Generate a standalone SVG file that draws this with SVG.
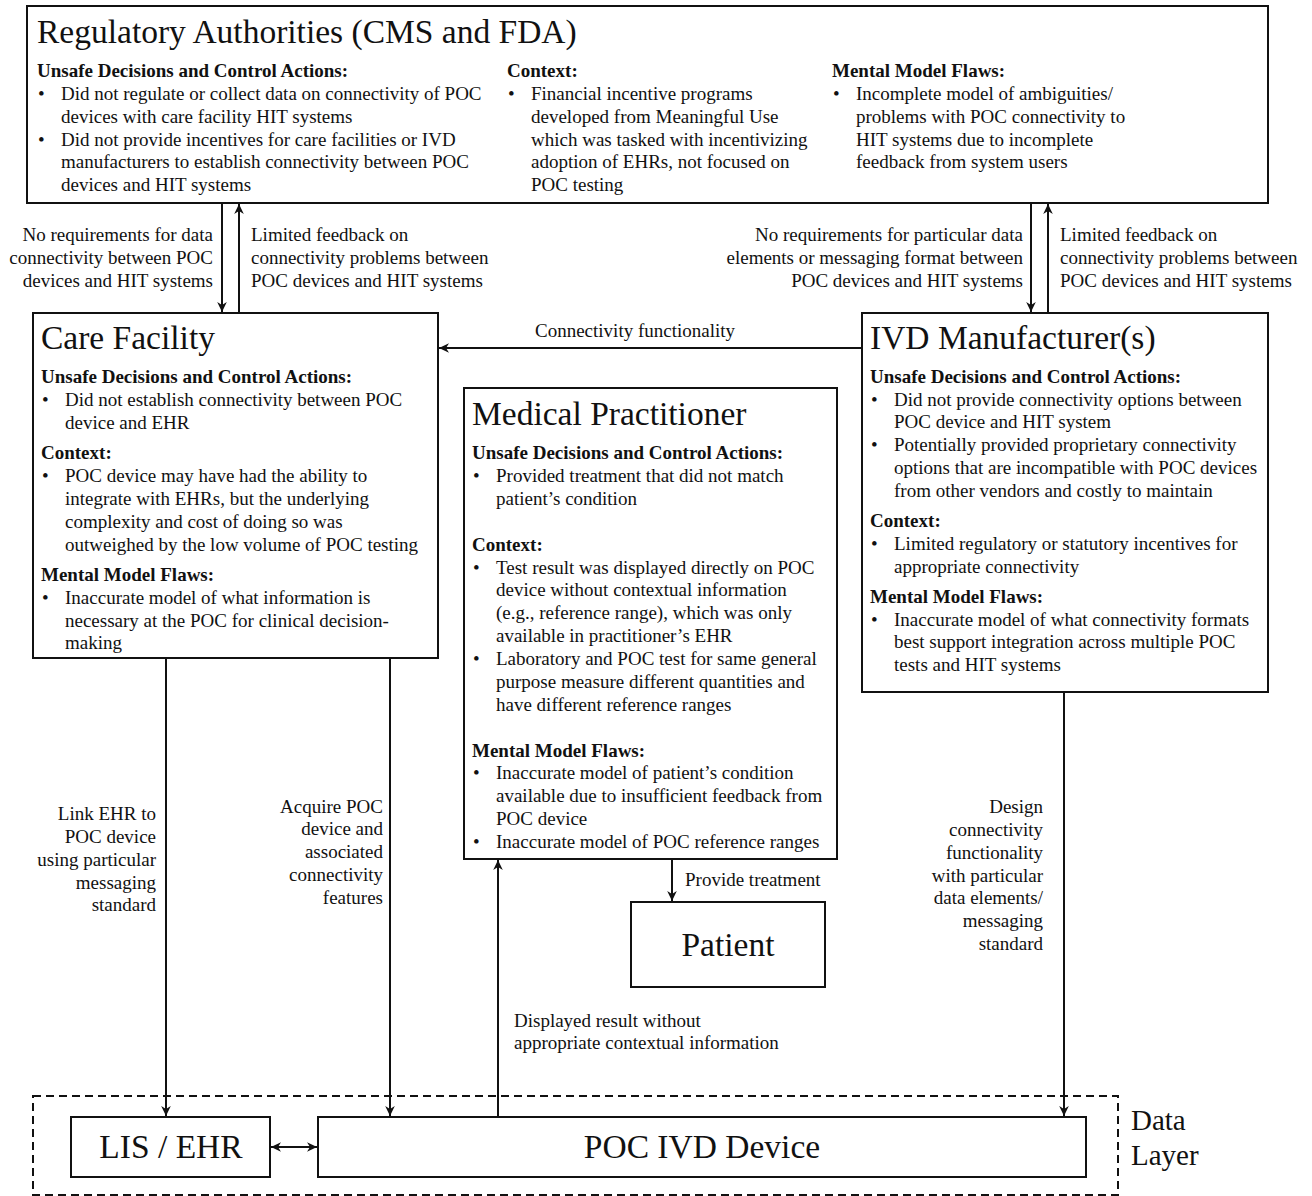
<svg xmlns="http://www.w3.org/2000/svg" width="1312" height="1196" viewBox="0 0 1312 1196">
  <style>
    text { font-family: "Liberation Serif", "Times New Roman", serif; font-size: 19px; fill: #111; }
    .hd { font-weight: bold; }
    .ttl { font-size: 33.5px; }
    .dl { font-size: 29px; }
    .end { text-anchor: end; }
    .mid { text-anchor: middle; }
    .box { fill: #fff; stroke: #111; stroke-width: 2; }
    .edge { fill: none; stroke: #111; stroke-width: 2; marker-end: url(#head); }
    .both { marker-start: url(#tail); }
    .layer { fill: none; stroke: #111; stroke-width: 2; stroke-dasharray: 8 5; }
  </style>
  <defs>
    <marker id="head" viewBox="-11 -6 12 12" refX="0" refY="0" markerWidth="12" markerHeight="12" markerUnits="userSpaceOnUse" orient="auto">
      <path d="M0,0 L-10,-4.8 L-7,0 L-10,4.8 Z" fill="#111"/>
    </marker>
    <marker id="tail" viewBox="-1 -6 12 12" refX="0" refY="0" markerWidth="12" markerHeight="12" markerUnits="userSpaceOnUse" orient="auto">
      <path d="M0,0 L10,-4.8 L7,0 L10,4.8 Z" fill="#111"/>
    </marker>
  </defs>

  <rect width="1312" height="1196" fill="#fff"/>

  <!-- data layer boundary -->
  <rect class="layer" x="33" y="1096" width="1085" height="99"/>
  <text class="dl" x="1131" y="1130">Data</text>
  <text class="dl" x="1131" y="1165">Layer</text>

  <!-- Regulatory authorities -->
  <g id="regulatory-authorities">
    <rect class="box" x="27" y="6" width="1241" height="197"/>
    <text class="ttl" x="37" y="43">Regulatory Authorities (CMS and FDA)</text>
    <text class="hd" x="37" y="77">Unsafe Decisions and Control Actions:</text>
    <text x="38" y="100">•</text>
    <text x="61" y="100">Did not regulate or collect data on connectivity of POC</text>
    <text x="61" y="123">devices with care facility HIT systems</text>
    <text x="38" y="146">•</text>
    <text x="61" y="146">Did not provide incentives for care facilities or IVD</text>
    <text x="61" y="168">manufacturers to establish connectivity between POC</text>
    <text x="61" y="191">devices and HIT systems</text>

    <text class="hd" x="507" y="77">Context:</text>
    <text x="508" y="100">•</text>
    <text x="531" y="100">Financial incentive programs</text>
    <text x="531" y="123">developed from Meaningful Use</text>
    <text x="531" y="146">which was tasked with incentivizing</text>
    <text x="531" y="168">adoption of EHRs, not focused on</text>
    <text x="531" y="191">POC testing</text>

    <text class="hd" x="832" y="77">Mental Model Flaws:</text>
    <text x="833" y="100">•</text>
    <text x="856" y="100">Incomplete model of ambiguities/</text>
    <text x="856" y="123">problems with POC connectivity to</text>
    <text x="856" y="146">HIT systems due to incomplete</text>
    <text x="856" y="168">feedback from system users</text>
  </g>

  <!-- Care facility -->
  <g id="care-facility">
    <rect class="box" x="33" y="313" width="405" height="345"/>
    <text class="ttl" x="41" y="349">Care Facility</text>
    <text class="hd" x="41" y="383">Unsafe Decisions and Control Actions:</text>
    <text x="42" y="406">•</text>
    <text x="65" y="406">Did not establish connectivity between POC</text>
    <text x="65" y="429">device and EHR</text>
    <text class="hd" x="41" y="459">Context:</text>
    <text x="42" y="482">•</text>
    <text x="65" y="482">POC device may have had the ability to</text>
    <text x="65" y="505">integrate with EHRs, but the underlying</text>
    <text x="65" y="528">complexity and cost of doing so was</text>
    <text x="65" y="551">outweighed by the low volume of POC testing</text>
    <text class="hd" x="41" y="581">Mental Model Flaws:</text>
    <text x="42" y="604">•</text>
    <text x="65" y="604">Inaccurate model of what information is</text>
    <text x="65" y="627">necessary at the POC for clinical decision-</text>
    <text x="65" y="649">making</text>
  </g>

  <!-- IVD manufacturers -->
  <g id="ivd-manufacturers">
    <rect class="box" x="862" y="313" width="406" height="379"/>
    <text class="ttl" x="870" y="349">IVD Manufacturer(s)</text>
    <text class="hd" x="870" y="383">Unsafe Decisions and Control Actions:</text>
    <text x="871" y="406">•</text>
    <text x="894" y="406">Did not provide connectivity options between</text>
    <text x="894" y="428">POC device and HIT system</text>
    <text x="871" y="451">•</text>
    <text x="894" y="451">Potentially provided proprietary connectivity</text>
    <text x="894" y="474">options that are incompatible with POC devices</text>
    <text x="894" y="497">from other vendors and costly to maintain</text>
    <text class="hd" x="870" y="527">Context:</text>
    <text x="871" y="550">•</text>
    <text x="894" y="550">Limited regulatory or statutory incentives for</text>
    <text x="894" y="573">appropriate connectivity</text>
    <text class="hd" x="870" y="603">Mental Model Flaws:</text>
    <text x="871" y="626">•</text>
    <text x="894" y="626">Inaccurate model of what connectivity formats</text>
    <text x="894" y="648">best support integration across multiple POC</text>
    <text x="894" y="671">tests and HIT systems</text>
  </g>

  <!-- Medical practitioner -->
  <g id="medical-practitioner">
    <rect class="box" x="464" y="388" width="373" height="471"/>
    <text class="ttl" x="472" y="425">Medical Practitioner</text>
    <text class="hd" x="472" y="459">Unsafe Decisions and Control Actions:</text>
    <text x="473" y="482">•</text>
    <text x="496" y="482">Provided treatment that did not match</text>
    <text x="496" y="505">patient’s condition</text>
    <text class="hd" x="472" y="551">Context:</text>
    <text x="473" y="574">•</text>
    <text x="496" y="574">Test result was displayed directly on POC</text>
    <text x="496" y="596">device without contextual information</text>
    <text x="496" y="619">(e.g., reference range), which was only</text>
    <text x="496" y="642">available in practitioner’s EHR</text>
    <text x="473" y="665">•</text>
    <text x="496" y="665">Laboratory and POC test for same general</text>
    <text x="496" y="688">purpose measure different quantities and</text>
    <text x="496" y="711">have different reference ranges</text>
    <text class="hd" x="472" y="757">Mental Model Flaws:</text>
    <text x="473" y="779">•</text>
    <text x="496" y="779">Inaccurate model of patient’s condition</text>
    <text x="496" y="802">available due to insufficient feedback from</text>
    <text x="496" y="825">POC device</text>
    <text x="473" y="848">•</text>
    <text x="496" y="848">Inaccurate model of POC reference ranges</text>
  </g>

  <!-- Patient -->
  <g id="patient">
    <rect class="box" x="631" y="902" width="194" height="85"/>
    <text class="ttl mid" x="728" y="956">Patient</text>
  </g>

  <!-- LIS / EHR -->
  <g id="lis-ehr">
    <rect class="box" x="71" y="1117" width="199" height="60"/>
    <text class="ttl mid" x="171" y="1158">LIS / EHR</text>
  </g>

  <!-- POC IVD device -->
  <g id="poc-ivd-device">
    <rect class="box" x="318" y="1117" width="768" height="60"/>
    <text class="ttl mid" x="702" y="1158">POC IVD Device</text>
  </g>

  <!-- connectors and their labels -->
  <g id="connectors">
    <line class="edge" x1="222" y1="204" x2="222" y2="312"/>
    <line class="edge" x1="239" y1="312" x2="239" y2="204"/>
    <line class="edge" x1="1031" y1="204" x2="1031" y2="312"/>
    <line class="edge" x1="1048" y1="312" x2="1048" y2="204"/>
    <line class="edge" x1="862" y1="348" x2="439" y2="348"/>
    <line class="edge" x1="166" y1="659" x2="166" y2="1116"/>
    <line class="edge" x1="390" y1="659" x2="390" y2="1116"/>
    <line class="edge" x1="498" y1="1116" x2="498" y2="860"/>
    <line class="edge" x1="672" y1="860" x2="672" y2="901"/>
    <line class="edge" x1="1064" y1="693" x2="1064" y2="1116"/>
    <line class="edge both" x1="271" y1="1147" x2="317" y2="1147"/>

    <text class="end" x="213" y="241">No requirements for data</text>
    <text class="end" x="213" y="264">connectivity between POC</text>
    <text class="end" x="213" y="287">devices and HIT systems</text>

    <text x="251" y="241">Limited feedback on</text>
    <text x="251" y="264">connectivity problems between</text>
    <text x="251" y="287">POC devices and HIT systems</text>

    <text class="end" x="1023" y="241">No requirements for particular data</text>
    <text class="end" x="1023" y="264">elements or messaging format between</text>
    <text class="end" x="1023" y="287">POC devices and HIT systems</text>

    <text x="1060" y="241">Limited feedback on</text>
    <text x="1060" y="264">connectivity problems between</text>
    <text x="1060" y="287">POC devices and HIT systems</text>

    <text class="mid" x="635" y="337">Connectivity functionality</text>

    <text class="end" x="156" y="820">Link EHR to</text>
    <text class="end" x="156" y="843">POC device</text>
    <text class="end" x="156" y="866">using particular</text>
    <text class="end" x="156" y="889">messaging</text>
    <text class="end" x="156" y="911">standard</text>

    <text class="end" x="383" y="813">Acquire POC</text>
    <text class="end" x="383" y="835">device and</text>
    <text class="end" x="383" y="858">associated</text>
    <text class="end" x="383" y="881">connectivity</text>
    <text class="end" x="383" y="904">features</text>

    <text class="end" x="1043" y="813">Design</text>
    <text class="end" x="1043" y="836">connectivity</text>
    <text class="end" x="1043" y="859">functionality</text>
    <text class="end" x="1043" y="882">with particular</text>
    <text class="end" x="1043" y="904">data elements/</text>
    <text class="end" x="1043" y="927">messaging</text>
    <text class="end" x="1043" y="950">standard</text>

    <text x="685" y="886">Provide treatment</text>

    <text x="514" y="1027">Displayed result without</text>
    <text x="514" y="1049">appropriate contextual information</text>
  </g>
</svg>
